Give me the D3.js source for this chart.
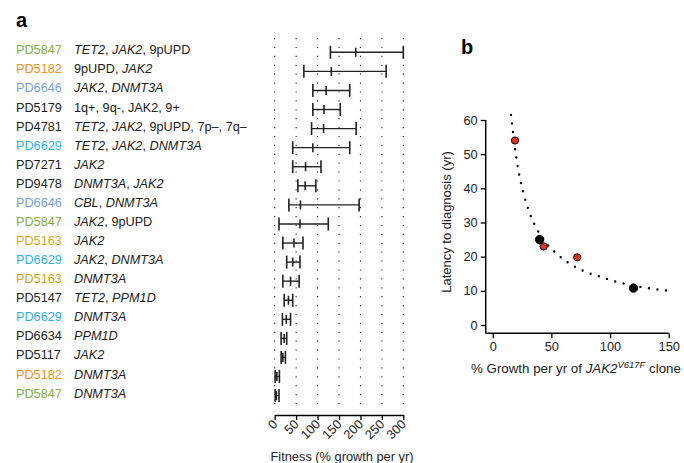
<!DOCTYPE html>
<html><head><meta charset="utf-8">
<script src="https://cdn.jsdelivr.net/npm/d3@7"></script>
<style>
body{margin:0;background:#fff;}
svg{font-family:"Liberation Sans",Arial,Helvetica,sans-serif;}
</style></head>
<body>
<svg id="chart" width="684" height="463"></svg>
<script>
// ---------- Panel a data ----------
const patients = ["PD5847","PD5182","PD6646","PD5179","PD4781","PD6629","PD7271","PD9478","PD6646","PD5847","PD5163","PD6629","PD5163","PD5147","PD6629","PD6634","PD5117","PD5182","PD5847"];
// italic parts between underscores
const mutations = ["_TET2_, _JAK2_, 9pUPD","9pUPD, _JAK2_","_JAK2_, _DNMT3A_","1q+, 9q-, JAK2, 9+","_TET2_, _JAK2_, 9pUPD, 7p\u2013, 7q\u2013","_TET2_, _JAK2_, _DNMT3A_","_JAK2_","_DNMT3A_, _JAK2_","_CBL_, _DNMT3A_","_JAK2_, 9pUPD","_JAK2_","_JAK2_, _DNMT3A_","_DNMT3A_","_TET2_, _PPM1D_","_DNMT3A_","_PPM1D_","_JAK2_","_DNMT3A_","_DNMT3A_"];
const fitLow  = [130, 68, 89, 89, 86, 42, 42, 54, 33, 10, 19, 28, 19, 22, 18, 15, 15, 1, 1];
const fitMid  = [189,132,120,115,114, 89, 72, 71, 60, 59, 45, 42, 37, 32, 27, 22, 19, 5, 4];
const fitHigh = [300,260,175,153,190,175,108, 96,197,125, 66, 59, 57, 42, 37, 28, 25,11,10];
const fitTicks = [0,50,100,150,200,250,300];

// ---------- Panel b data ----------
const growth  = [19, 40, 43.5, 72, 120];
const latency = [54, 25, 23, 19.8, 10.8];
const pointType = ["red","black","red","red","black"];
const curveX = [15.6,17.3,20.1,22.7,26.1,30.3,36.1,43.5,48.3,53.7,65.3,78.9,92.9,107.1,121.9,136.4,151.1];
const curveY = [61.5,56.5,49.0,43.8,38.8,33.9,29.1,24.9,22.9,21.1,18.0,15.6,14.0,12.5,11.4,10.6,9.95];
const growthTicks = [0,50,100,150];
const latencyTicks = [0,10,20,30,40,50,60];

const patientColor = d3.scaleOrdinal()
  .domain(["PD5847","PD5182","PD6646","PD6629","PD5163"])
  .range(["#7fb347","#f0921c","#7b9fd6","#2eb2e8","#d3aa1f"])
  .unknown("#222");

const svg = d3.select("#chart");
const ink = "#222";

// panel letters
svg.append("text").attr("x",16).attr("y",27).attr("font-size",20).attr("font-weight","bold").attr("fill","#000").text("a");
svg.append("text").attr("x",461).attr("y",54).attr("font-size",20).attr("font-weight","bold").attr("fill","#000").text("b");

// ---------- Panel a ----------
const xA = d3.scaleLinear().domain([0,300]).range([274.7,403.3]);
const yA = d3.scalePoint().domain(d3.range(patients.length)).range([52.3,395.6]);

// dotted gridlines
svg.append("g").selectAll("line").data(fitTicks).join("line")
  .attr("x1",d=>xA(d)).attr("x2",d=>xA(d))
  .attr("y1",38).attr("y2",412)
  .attr("stroke","#222").attr("stroke-width",1.1)
  .attr("stroke-dasharray","1.2,7.7");

// labels
const lab = svg.append("g").attr("font-size",12.7).attr("fill",ink);
patients.forEach((p,i)=>{
  lab.append("text").attr("x",16).attr("y",yA(i)+2)
    .attr("fill",patientColor(p)).text(p);
  const t = lab.append("text").attr("x",74).attr("y",yA(i)+2).attr("fill",ink);
  mutations[i].split("_").forEach((seg,k)=>{
    if(!seg) return;
    t.append("tspan").attr("font-style",k%2===1?"italic":"normal").text(seg);
  });
});

// error bars
const bars = svg.append("g").attr("stroke",ink);
patients.forEach((p,i)=>{
  const y = yA(i);
  bars.append("line").attr("x1",xA(fitLow[i])).attr("x2",xA(fitHigh[i])).attr("y1",y).attr("y2",y).attr("stroke-width",1.4);
  [fitLow[i],fitHigh[i]].forEach(v=>{
    bars.append("line").attr("x1",xA(v)).attr("x2",xA(v)).attr("y1",y-6.5).attr("y2",y+6.5).attr("stroke-width",1.6);
  });
  bars.append("line").attr("x1",xA(fitMid[i])).attr("x2",xA(fitMid[i])).attr("y1",y-4.5).attr("y2",y+4.5).attr("stroke-width",1.6);
});

// x axis panel a
const axA = svg.append("g").attr("transform","translate(0,415)")
  .call(d3.axisBottom(xA).tickValues(fitTicks).tickSize(5).tickSizeOuter(0));
axA.select(".domain").attr("stroke","#000").attr("stroke-width",1.5);
axA.selectAll(".tick line").attr("stroke","#000").attr("stroke-width",1.3);
axA.selectAll(".tick text")
  .attr("font-size",12.8).attr("fill",ink).attr("font-family",null)
  .attr("text-anchor","end").attr("dy",null).attr("y",0)
  .attr("transform","translate(3,10) rotate(-45)");
svg.append("text").attr("x",342).attr("y",461).attr("text-anchor","middle")
  .attr("font-size",12.8).attr("fill",ink).text("Fitness (% growth per yr)");

// ---------- Panel b ----------
const xB = d3.scaleLinear().domain([0,150]).range([492.7,668.7]);
const yB = d3.scaleLinear().domain([0,60]).range([325,120]);

const axBx = svg.append("g").attr("transform","translate(0,333.3)")
  .call(d3.axisBottom(xB).tickValues(growthTicks).tickSize(5).tickSizeOuter(0).tickPadding(4));
axBx.select(".domain").attr("d","M485.7,0H668.7").attr("stroke","#000").attr("stroke-width",1.5);
axBx.selectAll(".tick line").attr("stroke","#000").attr("stroke-width",1.3);
axBx.selectAll(".tick text").attr("font-size",12.8).attr("fill",ink).attr("font-family",null);

const axBy = svg.append("g").attr("transform","translate(485.7,0)")
  .call(d3.axisLeft(yB).tickValues(latencyTicks).tickSize(5).tickSizeOuter(0).tickPadding(3));
axBy.select(".domain").attr("d","M0,120V333.3").attr("stroke","#000").attr("stroke-width",1.5);
axBy.selectAll(".tick line").attr("stroke","#000").attr("stroke-width",1.3);
axBy.selectAll(".tick text").attr("font-size",12.8).attr("fill",ink).attr("font-family",null);

// axis titles
const xt = svg.append("text").attr("x",576).attr("y",373).attr("text-anchor","middle")
  .attr("font-size",13.3).attr("fill",ink);
xt.append("tspan").text("% Growth per yr of ");
xt.append("tspan").attr("font-style","italic").text("JAK2");
xt.append("tspan").attr("font-style","italic").attr("font-size",9.5).attr("dy",-5).text("V617F");
xt.append("tspan").attr("dy",5).text(" clone");

svg.append("text").attr("transform","translate(451,222) rotate(-90)").attr("text-anchor","middle")
  .attr("font-size",13).attr("fill",ink).text("Latency to diagnosis (yr)");

// dotted fit curve
const line = d3.line().x(d=>xB(d[0])).y(d=>yB(d[1])).curve(d3.curveMonotoneX);
svg.append("path").attr("d",line(curveX.map((x,i)=>[x,curveY[i]])))
  .attr("fill","none").attr("stroke","#000").attr("stroke-width",2.4)
  .attr("stroke-linecap","round").attr("stroke-dasharray","0,8.6");

// points
svg.append("g").selectAll("circle").data(growth).join("circle")
  .attr("cx",(d)=>xB(d)).attr("cy",(d,i)=>yB(latency[i]))
  .attr("r",(d,i)=>pointType[i]==="red"?3.6:4.2)
  .attr("fill",(d,i)=>pointType[i]==="red"?"#e2321d":"#000")
  .attr("stroke","#000").attr("stroke-width",1);
</script>
</body></html>
